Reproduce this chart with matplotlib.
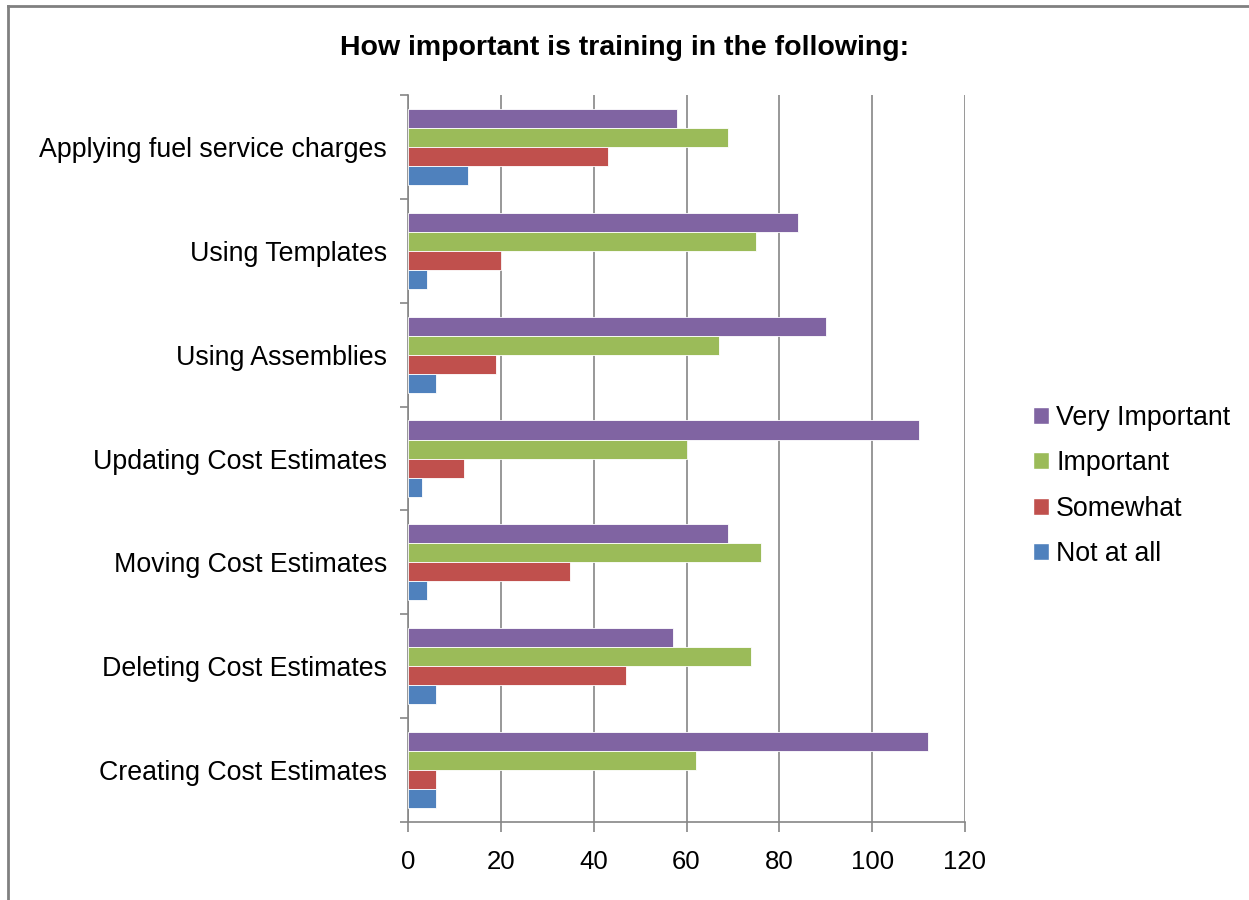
import numpy as np
import matplotlib.pyplot as plt
from matplotlib.lines import Line2D
from matplotlib.patches import Patch

plt.rcParams['font.family'] = ['Liberation Sans', 'DejaVu Sans']

categories = ['Applying fuel service charges', 'Using Templates', 'Using Assemblies',
              'Updating Cost Estimates', 'Moving Cost Estimates',
              'Deleting Cost Estimates', 'Creating Cost Estimates']
very_important = [58, 84, 90, 110, 69, 57, 112]
important = [69, 75, 67, 60, 76, 74, 62]
somewhat = [43, 20, 19, 12, 35, 47, 6]
not_at_all = [13, 4, 6, 3, 4, 6, 6]

series = [('Very Important', very_important, '#8064A2'),
          ('Important', important, '#9BBB59'),
          ('Somewhat', somewhat, '#C0504D'),
          ('Not at all', not_at_all, '#4F81BD')]

fig = plt.figure(figsize=(12.49, 9), dpi=100)
ax = fig.add_axes([0.3267, 0.0867, 0.4459, 0.8077])

n = len(categories)
# first category at the top
ypos = np.arange(n)[::-1].astype(float)
h = 0.183
for i, (name, vals, col) in enumerate(series):
    offs = (1.5 - i) * h
    ax.barh(ypos + offs, vals, height=h, color=col, edgecolor='white',
            linewidth=0.6, zorder=3, label=name)

ax.set_xlim(0, 120)
ax.set_ylim(-0.5, n - 0.5)
ax.set_xticks(np.arange(0, 121, 20))
ax.set_yticks(ypos)
ax.set_yticklabels(categories, fontsize=19.3)
ax.set_yticks(np.arange(-0.5, n, 1.0), minor=True)
ax.tick_params(axis='y', which='major', length=0, pad=15)
ax.tick_params(axis='y', which='minor', length=6, color='#868686', width=1.2)
ax.tick_params(axis='x', labelsize=18.5, length=7, color='#868686', width=1.2, pad=13)

ax.grid(axis='x', color='#868686', linewidth=1.2, zorder=0)
for s in ['top', 'right']:
    ax.spines[s].set_visible(False)
for s in ['left', 'bottom']:
    ax.spines[s].set_color('#868686')
    ax.spines[s].set_linewidth(1.2)

fig.text(0.5, 0.947, 'How important is training in the following:', ha='center',
         va='center', fontsize=20.5, fontweight='bold')

handles = [Patch(facecolor=col, edgecolor='white', label=name) for name, _, col in series]
fig.legend(handles=handles, loc='center left', bbox_to_anchor=(0.808, 0.46),
           frameon=False, fontsize=19.3, handlelength=0.6, handleheight=0.6,
           handletextpad=0.25, labelspacing=0.72)

# outer chart frame
fig.add_artist(Line2D([0.0065, 0.0065], [0.0, 0.993], transform=fig.transFigure,
                      color='#808080', linewidth=2))
fig.add_artist(Line2D([0.0065, 1.0], [0.993, 0.993], transform=fig.transFigure,
                      color='#808080', linewidth=2))

fig.savefig('out.png', dpi=100, facecolor='white')
